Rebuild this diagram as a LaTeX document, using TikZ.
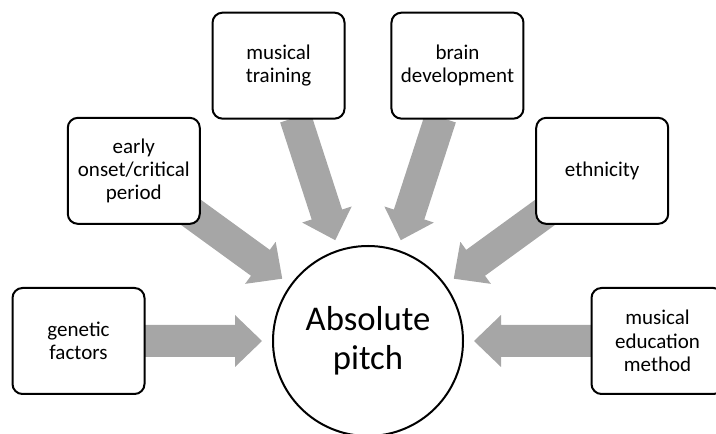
\documentclass[tikz,border=0pt]{standalone}
\usepackage{fontspec}
\setmainfont{Carlito}
\usetikzlibrary{calc}
\pgfdeclarelayer{background}
\pgfsetlayers{background,main}
\definecolor{arrowgray}{RGB}{166,166,166}
\newcommand\radialarrow[2]{%
  \path ($(#2.center)!79.5pt!(#1.center)$) coordinate (tipT)
        ($(#2.center)!99.75pt!(#1.center)$) coordinate (headH)
        ($(#2.center)!176.25pt!(#1.center)$) coordinate (startS);
  \fill[arrowgray] (tipT)
    -- ($(headH)!19.5pt!90:(#1.center)$)
    -- ($(headH)!12pt!90:(#1.center)$)
    -- ($(startS)!12pt!90:(#1.center)$)
    -- ($(startS)!12pt!-90:(#1.center)$)
    -- ($(headH)!12pt!-90:(#1.center)$)
    -- ($(headH)!19.5pt!-90:(#1.center)$)
    -- cycle;}
\begin{document}
\begin{tikzpicture}[x=0.75pt,y=0.75pt,
  factor/.style={draw=black, line width=1.5pt, fill=white, rounded corners=7.5pt,
    minimum width=99pt, minimum height=79.5pt, inner sep=0pt, align=center,
    font=\fontsize{15.75pt}{17.5pt}\selectfont},
  hub/.style={draw=black, line width=1.5pt, fill=white, circle, minimum size=142.5pt,
    inner sep=0pt, align=center, font=\fontsize{26pt}{29.25pt}\selectfont}]
\useasboundingbox (0,0) rectangle (716,434);
\clip (0,0) rectangle (716,434);
\node[hub] (hub) at (368,93) {Absolute\\pitch};
\node[factor] (gen) at ($(hub.center)+(180:289.5)$) {genetic\\factors};
\node[factor] (early) at ($(hub.center)+(144:289.5)$) {early\\onset/critical\\period};
\node[factor] (train) at ($(hub.center)+(108:289.5)$) {musical\\training};
\node[factor] (brain) at ($(hub.center)+(72:289.5)$) {brain\\development};
\node[factor] (eth) at ($(hub.center)+(36:289.5)$) {ethnicity};
\node[factor] (edu) at ($(hub.center)+(0:289.5)$) {musical\\education\\method};
\begin{pgfonlayer}{background}
  \radialarrow{gen}{hub}
  \radialarrow{early}{hub}
  \radialarrow{train}{hub}
  \radialarrow{brain}{hub}
  \radialarrow{eth}{hub}
  \radialarrow{edu}{hub}
\end{pgfonlayer}
\end{tikzpicture}
\end{document}
